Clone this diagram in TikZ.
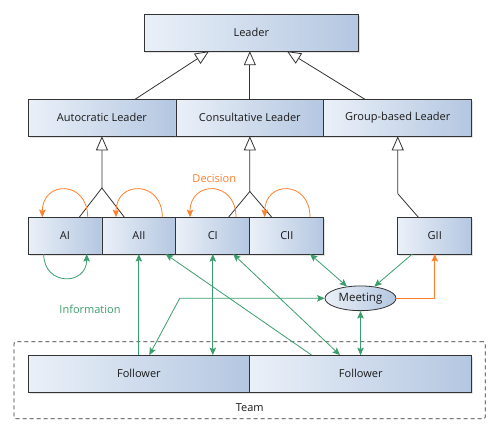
\documentclass[tikz,border=0pt]{standalone}
\usepackage{fontspec}
\setmainfont{Open Sans}
\usetikzlibrary{arrows.meta,shadows,shapes.geometric}
\definecolor{boxL}{HTML}{EAF0F8}
\definecolor{boxR}{HTML}{B4C7E1}
\definecolor{edgec}{HTML}{333333}
\definecolor{infog}{HTML}{3A9E6C}
\definecolor{deco}{HTML}{FF7F2A}
\definecolor{txt}{HTML}{1A1A1A}
\begin{document}
\begin{tikzpicture}[x=1pt,y=-1pt,
  box/.style={draw=edgec, line width=0.8pt, left color=boxL, right color=boxR,
    minimum height=37pt, inner sep=0pt, outer sep=0pt, text=txt,
    font=\fontsize{11}{13}\selectfont,
    drop shadow={shadow xshift=1.5pt, shadow yshift=-1.5pt, opacity=0.22}},
  gen/.style={draw=edgec, line width=0.8pt, -{Triangle[length=14pt,width=12pt,fill=white]}},
  plain/.style={draw=edgec, line width=0.8pt},
  infoarr/.style={draw=infog, line width=0.8pt, -{Stealth[length=7.5pt,width=6.5pt,inset=1.5pt]}},
  infoboth/.style={draw=infog, line width=0.8pt, {Stealth[length=7.5pt,width=6.5pt,inset=1.5pt]}-{Stealth[length=7.5pt,width=6.5pt,inset=1.5pt]}},
  decarr/.style={draw=deco, line width=0.8pt, -{Stealth[length=7.5pt,width=6.5pt,inset=1.5pt]}},
  lbl/.style={font=\fontsize{11}{13}\selectfont, inner sep=0pt}
]
\useasboundingbox (0,0) rectangle (500,434);

% team frame
\node[draw=edgec, line width=0.8pt, dash pattern=on 4pt off 3pt, rounded corners=2pt,
  minimum width=471.3pt, minimum height=77pt, inner sep=0pt] (team) at (249.65,380.2) {};
\node[lbl, text=txt] (teamlbl) at (249.7,407.7) {Team};

% boxes
\node[box, minimum width=214.7pt] (leader) at (251.3,32.7) {Leader};
\node[box, minimum width=147.9pt] (auto) at (101.95,117.8) {Autocratic Leader};
\node[box, minimum width=147.9pt] (cons) at (249.85,117.8) {Consultative Leader};
\node[box, minimum width=147.9pt] (grp) at (397.75,117.8) {Group-based Leader};

\node[box, minimum width=73.9pt] (ai) at (64.95,235.6) {AI};
\node[box, minimum width=73.9pt] (aii) at (138.85,235.6) {AII};
\node[box, minimum width=73.9pt] (ci) at (212.8,235.6) {CI};
\node[box, minimum width=74pt] (cii) at (286.8,235.6) {CII};
\node[box, minimum width=73.9pt] (gii) at (434.75,235.6) {GII};

\node[box, minimum width=221.8pt] (fa) at (138.9,373.6) {Follower};
\node[box, minimum width=221.9pt] (fb) at (360.75,373.6) {Follower};

\node[draw=edgec, line width=0.8pt, ellipse, left color=boxL, right color=boxR,
  minimum width=71pt, minimum height=24.7pt, inner sep=0pt, text=txt,
  font=\fontsize{11.5}{13}\selectfont] (meet) at (360.5,298.3) {Meeting};

% generalisation to Leader
\draw[gen] ([xshift=33.1pt]auto.north) -- ([xshift=-42.3pt]leader.south);
\draw[gen] (cons.north) -- (cons.north |- leader.south);
\draw[gen] ([xshift=-32.8pt]grp.north) -- ([xshift=35.7pt]leader.south);

% generalisation to second level
\coordinate (splitA) at (101.9,188);
\draw[plain] ([xshift=14.4pt]ai.north) -- (splitA) -- ([xshift=-14.6pt]aii.north);
\draw[gen] (splitA) -- (auto.south);
\coordinate (splitC) at (249.8,191.5);
\draw[plain] ([xshift=15.8pt]ci.north) -- (splitC) -- ([xshift=-15.1pt]cii.north);
\draw[gen] (splitC) -- (cons.south);
\coordinate (bendG) at (397.8,193.7);
\draw[plain] ([xshift=-16.5pt]gii.north) -- (bendG);
\draw[gen] (bendG) -- (grp.south);

% decision loops
\draw[decarr] ([xshift=22.75pt]ai.north) .. controls +(0,-37) and +(0,-37) .. ([xshift=-22.65pt]ai.north);
\draw[decarr] ([xshift=23.45pt]aii.north) .. controls +(0,-37) and +(0,-37) .. ([xshift=-22.85pt]aii.north);
\draw[decarr] ([xshift=23.2pt]ci.north) .. controls +(0,-37) and +(0,-37) .. ([xshift=-22.8pt]ci.north);
\draw[decarr] ([xshift=23.2pt]cii.north) .. controls +(0,-37) and +(0,-37) .. ([xshift=-22.1pt]cii.north);
\node[lbl, text=deco] (declbl) at (214.3,178.3) {Decision};

% information
\draw[infoarr] ([xshift=-21.25pt]ai.south) .. controls +(0,32) and +(0,32) .. ([xshift=21.75pt]ai.south);
\draw[infoarr] (fa.north -| aii.south) -- (aii.south);
\draw[infoarr] ([xshift=-49.1pt]fb.north) -- ([xshift=26.8pt]aii.south);
\draw[infoboth] (ci.south) -- (ci.south |- fa.north);
\draw[infoboth] ([xshift=20.4pt]ci.south) -- ([xshift=-20.8pt]fb.north);
\draw[infoboth] ([xshift=23.2pt]cii.south) -- (meet);
\draw[infoarr] ([xshift=-22.5pt]gii.south) -- (meet);
\draw[infoboth] (meet.south) -- (meet.south |- fb.north);
\coordinate (bendF) at (179.7,298.3);
\draw[infoboth] ([xshift=10.4pt]fa.north) -- (bendF) -- (meet.west);
\node[lbl, text=infog] (infolbl) at (90,309.3) {Information};

% meeting decides
\draw[decarr] (meet.east) -| (gii.south);
\end{tikzpicture}
\end{document}
